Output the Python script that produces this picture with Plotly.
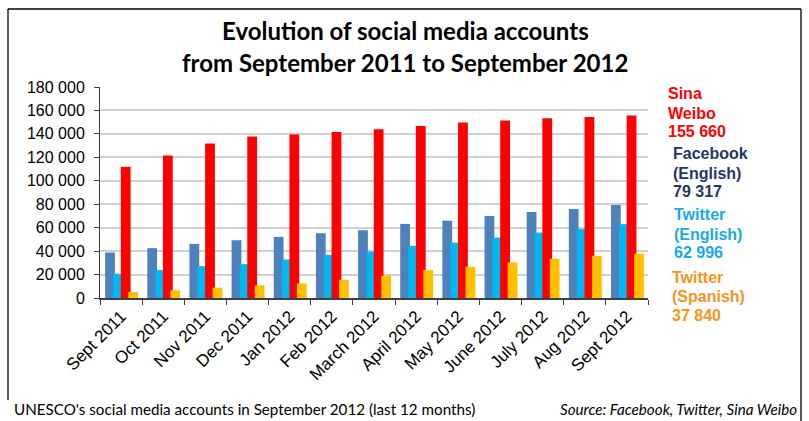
import plotly.graph_objects as go

months = ["Sept 2011", "Oct 2011", "Nov 2011", "Dec 2011", "Jan 2012", "Feb 2012",
          "March 2012", "April 2012", "May 2012", "June 2012", "July 2012", "Aug 2012", "Sept 2012"]
facebook_en = [38800, 42500, 46200, 49300, 52150, 55300, 57850, 63200, 66000, 70000, 73400, 75950, 79317]
twitter_en = [20700, 23800, 27200, 28900, 32850, 36800, 39650, 44500, 47300, 51550, 55800, 58950, 62996]
sina_weibo = [111950, 121650, 131850, 137800, 139500, 141700, 144000, 146800, 149700, 151400, 153400, 154500, 155660]
twitter_es = [5100, 6500, 8800, 10700, 12400, 15550, 19000, 23800, 26600, 30300, 33450, 36000, 37840]

W, H = 809, 421
L, R, T, B = 100, 648, 87, 298  # plot area in pixels


def px(x):
    return (x - L) / (R - L)


def py(y):
    return (B - y) / (B - T)


ARIAL = "Liberation Sans, Arial"
CALIBRI = "Lato, Carlito, Calibri"

fig = go.Figure()
bw = 0.232
series = [
    ("Facebook (English)", facebook_en, "#4F81BD", -0.378),
    ("Twitter (English)", twitter_en, "#00B8F1", -0.188),
    ("Sina Weibo", sina_weibo, "#FF0000", -0.006),
    ("Twitter (Spanish)", twitter_es, "#FFC000", 0.171),
]
for name, vals, col, off in series:
    fig.add_trace(go.Bar(x=months, y=vals, name=name, marker_color=col,
                         marker_line_width=0, width=bw, offset=off))

fig.update_layout(
    width=W, height=H,
    margin=dict(l=L, r=W - R, t=T, b=H - B, pad=0),
    barmode="overlay",
    showlegend=False,
    plot_bgcolor="white", paper_bgcolor="white",
    separators=". ",
    font=dict(family=ARIAL, color="black"),
)
fig.update_yaxes(range=[0, 180000], dtick=20000, tickformat=",d",
                 showgrid=True, gridcolor="#CFCFCF", gridwidth=1.5,
                 showline=True, linecolor="#404040", linewidth=1,
                 ticks="outside", ticklen=5, tickcolor="#404040",
                 tickfont=dict(size=16, family=ARIAL, color="black"),
                 ticklabelstandoff=6, zeroline=False, automargin=False)
fig.update_xaxes(showline=True, linecolor="#404040", linewidth=1.5,
                 ticks="outside", ticklen=5, tickcolor="#404040", tickson="boundaries",
                 tickangle=-45, tickfont=dict(size=17, family=ARIAL, color="black"),
                 showgrid=False, automargin=False)

ann = []
ann.append(dict(text="<b>Evolution of social media accounts</b>", x=px(405), y=py(30),
                font=dict(family=CALIBRI, size=24, color="black")))
ann.append(dict(text="<b>from September 2011 to September 2012</b>", x=px(405), y=py(63),
                font=dict(family=CALIBRI, size=24, color="black")))

side = [
    (666, [93.5, 113, 131.5], ["Sina", "Weibo", "155 660"], "#FF0000"),
    (670.5, [153.3, 173.3, 191.7], ["Facebook", "(English)", "79 317"], "#1F3864"),
    (671.5, [214.3, 234, 252.7], ["Twitter", "(English)", "62 996"], "#17A9E8"),
    (670, [277.3, 296.7, 315.7], ["Twitter", "(Spanish)", "37 840"], "#F7941D"),
]
for x0, ys, texts, col in side:
    for yy, t in zip(ys, texts):
        ann.append(dict(text="<b>%s</b>" % t, x=px(x0), y=py(yy), xanchor="left",
                        font=dict(family=ARIAL, size=16, color=col)))

ann.append(dict(text="UNESCO's social media accounts in September 2012 (last 12 months)",
                x=px(12), y=py(409), xanchor="left",
                font=dict(family=CALIBRI, size=15.2, color="black")))
ann.append(dict(text="<i>Source: Facebook, Twitter, Sina Weibo</i>",
                x=px(799), y=py(409), xanchor="right",
                font=dict(family=CALIBRI, size=15.2, color="black")))

for a in ann:
    a.setdefault("xanchor", "center")
    a.update(xref="paper", yref="paper", yanchor="middle", showarrow=False)
fig.update_layout(annotations=ann)

# frame
for x0, y0, x1, y1 in [(8, 9, 801, 9), (8, 9, 8, 400), (801, 9, 801, 425)]:
    fig.add_shape(type="line", xref="paper", yref="paper",
                  x0=px(x0), y0=py(y0), x1=px(x1), y1=py(y1),
                  line=dict(color="black", width=1.3))

fig.write_html("out.html", config={"displayModeBar": False},
               post_script="document.body.style.margin='0px';")
